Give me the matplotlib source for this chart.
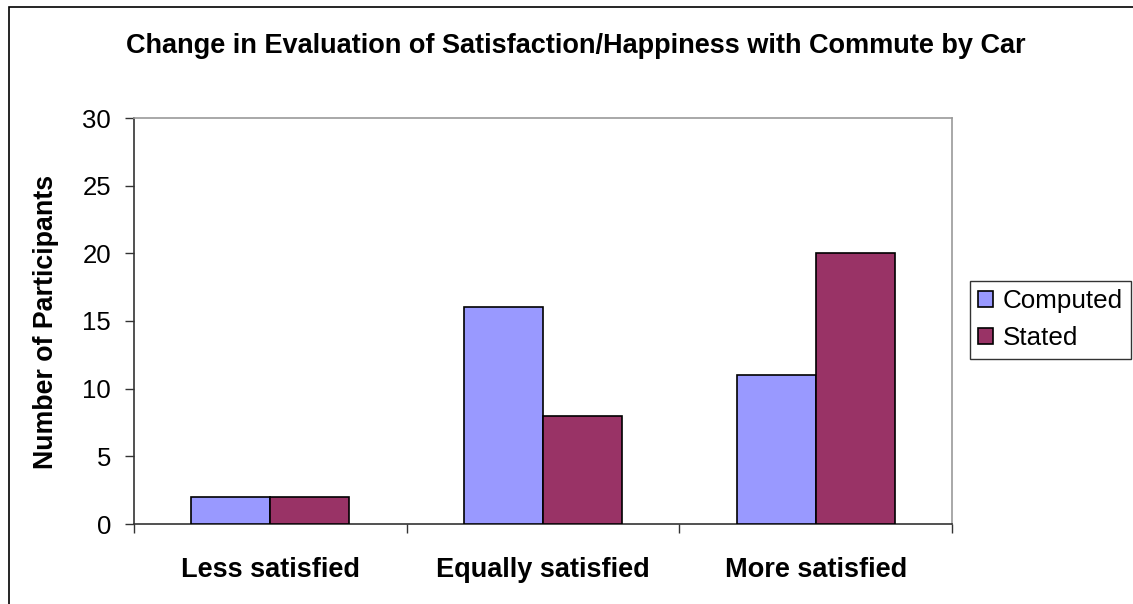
import matplotlib
matplotlib.use("Agg")
import matplotlib.pyplot as plt
from matplotlib.patches import Rectangle
import numpy as np

categories = ["Less satisfied", "Equally satisfied", "More satisfied"]
computed = [2, 16, 11]
stated = [2, 8, 20]
series_names = ["Computed", "Stated"]
yticks = [0, 5, 10, 15, 20, 25, 30]

plt.rcParams['font.family'] = ['Liberation Sans', 'DejaVu Sans']

W, H = 1133, 604
fig = plt.figure(figsize=(W/100, H/100), dpi=100)
fig.patches.append(Rectangle((9/W, -0.1), 1.2, 1 - 7/H + 0.1, transform=fig.transFigure,
                             fill=False, edgecolor='black', linewidth=1.2))

L, R, T, B = 134, 952, 118, 524
ax = fig.add_axes([L/W, 1 - B/H, (R-L)/W, (B-T)/H])

x = np.arange(len(categories))
bw = 0.29
ax.bar(x - bw/2, computed, bw, color='#9999FF', edgecolor='black', linewidth=1.2, label=series_names[0], zorder=3)
ax.bar(x + bw/2, stated, bw, color='#993366', edgecolor='black', linewidth=1.2, label=series_names[1], zorder=3)

ax.set_xlim(-0.5, 2.5)
ax.set_ylim(0, 30)
ax.set_yticks(yticks)
ax.set_yticklabels([str(v) for v in yticks], fontsize=18.5)
ax.set_xticks(x)
ax.set_xticklabels(categories, fontsize=19.5, fontweight='bold')
ax.tick_params(axis='x', length=0, pad=24)
ax.set_xticks([-0.5, 0.5, 1.5, 2.5], minor=True)
ax.tick_params(axis='x', which='minor', length=6.5, width=1, color='#333333')
ax.tick_params(axis='y', length=6.5, width=1, color='#333333', pad=10)

for s in ['top', 'right']:
    ax.spines[s].set_color('#999999')
    ax.spines[s].set_linewidth(1.2)
for s in ['left', 'bottom']:
    ax.spines[s].set_color('#333333')
    ax.spines[s].set_linewidth(1.2)

ax.set_ylabel("Number of Participants", fontsize=19.3, fontweight='bold')
ax.yaxis.set_label_coords(59/W, 1 - 322/H, transform=fig.transFigure)

fig.text(576 / W, 1 - 46/H,
         "Change in Evaluation of Satisfaction/Happiness with Commute by Car",
         ha='center', va='center', fontsize=19.5, fontweight='bold')

leg = fig.legend(loc='upper left', bbox_to_anchor=(970/W, 1 - 281/H), frameon=True,
                 fontsize=18.7, handlelength=0.55, handleheight=0.55, handletextpad=0.4,
                 borderpad=0.32, labelspacing=0.5, fancybox=False, borderaxespad=0)
leg.get_frame().set_edgecolor('black')
leg.get_frame().set_linewidth(1)

fig.savefig("out.png", dpi=100)
